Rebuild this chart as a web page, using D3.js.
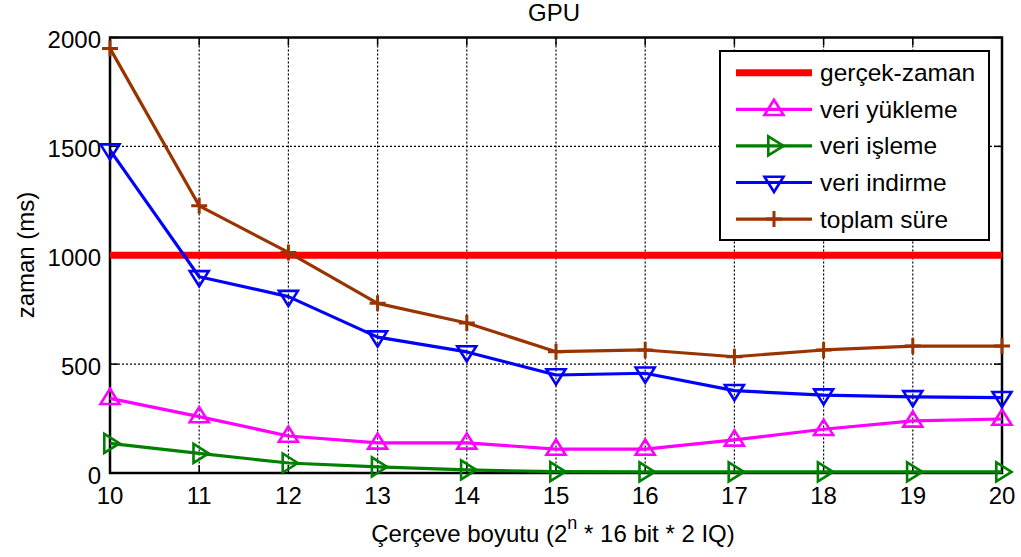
<!DOCTYPE html>
<html>
<head>
<meta charset="utf-8">
<script src="https://cdn.jsdelivr.net/npm/d3@7"></script>
<style>
  html, body { margin: 0; padding: 0; background: #fff; }
  svg { display: block; font-family: "Liberation Sans", Arial, sans-serif; }
</style>
</head>
<body>
<svg id="chart" width="1021" height="557"></svg>
<script>
// Frame size exponent n (frame = 2^n * 16 bit * 2 IQ)
const frameSizes = [10, 11, 12, 13, 14, 15, 16, 17, 18, 19, 20];
const realTimeLimit = 1000;
const uploadTimes   = [343, 259, 170, 138, 138, 110, 110, 152, 201, 239, 248];
const processTimes  = [136, 90, 46, 28, 14, 6, 5, 5, 5, 5, 5];
const downloadTimes = [1483, 901, 810, 624, 556, 450, 458, 378, 358, 350, 346];
const totalTimes    = [1950, 1227, 1013, 779, 689, 557, 565, 534, 565, 583, 583];
const yTicks = [0, 500, 1000, 1500, 2000];

const series = [
  { name: "veri yükleme", values: uploadTimes,   color: "#ff00ff", marker: "up" },
  { name: "veri işleme",  values: processTimes,  color: "#008000", marker: "right" },
  { name: "veri indirme", values: downloadTimes, color: "#0000ff", marker: "down" },
  { name: "toplam süre",  values: totalTimes,    color: "#993300", marker: "plus" }
];

const svg = d3.select("#chart");
const m = { left: 110, right: 1002, top: 37.5, bottom: 473 };
const x = d3.scaleLinear().domain([10, 20]).range([m.left, m.right]);
const y = d3.scaleLinear().domain([0, 2000]).range([m.bottom, m.top]);
const fs = 24;

// dotted grid
const grid = svg.append("g").attr("stroke", "#000").attr("stroke-width", 1.2)
  .attr("stroke-dasharray", "2,2");
frameSizes.slice(1, -1).forEach(v => {
  grid.append("line").attr("x1", x(v)).attr("x2", x(v)).attr("y1", m.top).attr("y2", m.bottom);
});
yTicks.slice(1, -1).forEach(v => {
  grid.append("line").attr("x1", m.left).attr("x2", m.right).attr("y1", y(v)).attr("y2", y(v));
});

// inward ticks on all four sides
const tl = 8;
const ticks = svg.append("g").attr("stroke", "#000").attr("stroke-width", 1.5);
frameSizes.forEach(v => {
  ticks.append("line").attr("x1", x(v)).attr("x2", x(v)).attr("y1", m.bottom).attr("y2", m.bottom - tl);
  ticks.append("line").attr("x1", x(v)).attr("x2", x(v)).attr("y1", m.top).attr("y2", m.top + tl);
});
yTicks.forEach(v => {
  ticks.append("line").attr("x1", m.left).attr("x2", m.left + tl).attr("y1", y(v)).attr("y2", y(v));
  ticks.append("line").attr("x1", m.right).attr("x2", m.right - tl).attr("y1", y(v)).attr("y2", y(v));
});

// tick labels
svg.append("g").selectAll("text").data(frameSizes).join("text")
  .attr("x", d => x(d)).attr("y", 504).attr("text-anchor", "middle")
  .attr("font-size", fs).text(d => d);
svg.append("g").selectAll("text").data(yTicks).join("text")
  .attr("x", 101).attr("y", d => y(d) + 10.5).attr("text-anchor", "end")
  .attr("font-size", fs).text(d => d);

// box
svg.append("rect").attr("x", m.left).attr("y", m.top)
  .attr("width", m.right - m.left).attr("height", m.bottom - m.top)
  .attr("fill", "none").attr("stroke", "#000").attr("stroke-width", 2.5);

// real-time limit
svg.append("line").attr("x1", x(10)).attr("x2", x(20))
  .attr("y1", y(realTimeLimit)).attr("y2", y(realTimeLimit))
  .attr("stroke", "#ff0000").attr("stroke-width", 7);

function drawMarker(g, type, cx, cy, color) {
  const s = 9.5;
  if (type === "plus") {
    g.append("path").attr("d", `M${cx - 8},${cy}H${cx + 8}M${cx},${cy - 8}V${cy + 8}`)
      .attr("stroke", color).attr("stroke-width", 3).attr("fill", "none");
    return;
  }
  let pts;
  if (type === "up") pts = [[cx, cy - s], [cx + s, cy + s * 0.6], [cx - s, cy + s * 0.6]];
  else if (type === "down") pts = [[cx, cy + s], [cx + s, cy - s * 0.6], [cx - s, cy - s * 0.6]];
  else pts = [[cx + s, cy], [cx - s * 0.6, cy - s], [cx - s * 0.6, cy + s]];
  g.append("polygon").attr("points", pts.map(p => p.join(",")).join(" "))
    .attr("fill", "none").attr("stroke", color).attr("stroke-width", 2.6)
    .attr("stroke-linejoin", "miter");
}

const line = d3.line().x((d, i) => x(frameSizes[i])).y(d => y(d));
series.forEach(s => {
  const g = svg.append("g");
  g.append("path").attr("d", line(s.values)).attr("fill", "none")
    .attr("stroke", s.color).attr("stroke-width", 3.2).attr("stroke-linejoin", "round");
  s.values.forEach((v, i) => drawMarker(g, s.marker, x(frameSizes[i]), y(v), s.color));
});

// legend
const lg = svg.append("g");
lg.append("rect").attr("x", 720).attr("y", 51).attr("width", 269).attr("height", 189)
  .attr("fill", "#fff").attr("stroke", "#000").attr("stroke-width", 2);
const legendItems = [{ name: "gerçek-zaman", color: "#ff0000", marker: null }].concat(series);
legendItems.forEach((d, i) => {
  const ly = 72.7 + i * 36.6;
  lg.append("line").attr("x1", 736).attr("x2", 812).attr("y1", ly).attr("y2", ly)
    .attr("stroke", d.color).attr("stroke-width", d.marker ? 3.2 : 7);
  if (d.marker) drawMarker(lg, d.marker, 774, ly, d.color);
  lg.append("text").attr("x", 820).attr("y", ly + 8.5).attr("font-size", 24.5).text(d.name);
});

// title and axis labels
svg.append("text").attr("x", 554).attr("y", 21).attr("text-anchor", "middle")
  .attr("font-size", fs).text("GPU");
svg.append("text").attr("transform", "translate(34,255) rotate(-90)")
  .attr("text-anchor", "middle").attr("font-size", fs).text("zaman (ms)");
const xl = svg.append("text").attr("x", 553).attr("y", 542).attr("text-anchor", "middle")
  .attr("font-size", fs);
xl.append("tspan").text("Çerçeve boyutu (2");
xl.append("tspan").attr("dy", -13).attr("font-size", 18).text("n");
xl.append("tspan").attr("dy", 13).text(" * 16 bit * 2 IQ)");
</script>
</body>
</html>
